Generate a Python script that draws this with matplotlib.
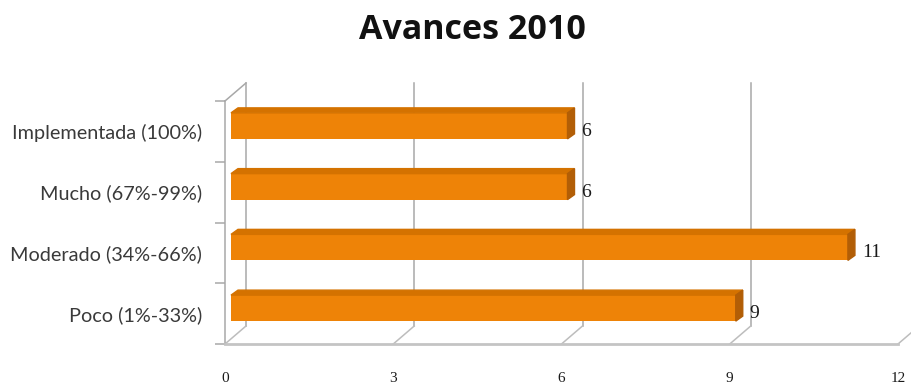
import matplotlib.pyplot as plt
from matplotlib.patches import Polygon

categorias = ['Poco (1%-33%)', 'Moderado (34%-66%)', 'Mucho (67%-99%)', 'Implementada (100%)']
avances = [9, 11, 6, 6]
ticks_x = [0, 3, 6, 9, 12]

naranja = '#EE8307'
naranja_sup = '#D47200'
naranja_lado = '#B25E06'
gris = '#A8A8A8'

fig = plt.figure(figsize=(9.11, 3.86), dpi=100)
ax = fig.add_axes([225 / 911, 42 / 386, 673 / 911, 243 / 386])
ax.set_xlim(0, 12)
ax.set_ylim(-0.5, 3.5)

# pixeles por unidad de datos, para los desplazamientos del efecto 3D
ppx = 673 / 12
ppy = 243 / 4


def px(dx, dy):
    return dx / ppx, dy / ppy


bx, by = px(21, 18)   # pared del fondo
fx, fy = px(6, 5.5)   # cara frontal de las barras
dx, dy = px(7, 5)     # profundidad de las barras
alto = 26 / ppy

# pared del fondo y suelo
for v in ticks_x:
    ax.plot([v + bx, v + bx], [-0.5 + by, 3.5 + by], color=gris, lw=1.1, clip_on=False, zorder=1)
    ax.plot([v, v + bx], [-0.5, -0.5 + by], color='#BDBDBD', lw=1.1, clip_on=False, zorder=1)
ax.plot([0, bx], [3.5, 3.5 + by], color=gris, lw=1.1, clip_on=False, zorder=1)

# barras con caras superior y lateral
ys = list(range(len(categorias)))
ax.barh([y + fy for y in ys], avances, left=fx, height=alto, color=naranja, zorder=3)
for y, v in zip(ys, avances):
    yt = y + fy + alto / 2
    yb = y + fy - alto / 2
    x1 = fx + v
    ax.add_patch(Polygon([(fx, yt), (x1, yt), (x1 + dx, yt + dy), (fx + dx, yt + dy)],
                         closed=True, color=naranja_sup, zorder=3, clip_on=False))
    ax.add_patch(Polygon([(x1, yb), (x1, yt), (x1 + dx, yt + dy), (x1 + dx, yb + dy)],
                         closed=True, color=naranja_lado, zorder=3, clip_on=False))
    ax.annotate(str(v), (x1 + dx, y), xytext=(7, 0), textcoords='offset pixels',
                ha='left', va='center', fontsize=14, family='Liberation Serif', color='#1a1a1a')

# ejes
for s in ['top', 'right']:
    ax.spines[s].set_visible(False)
ax.spines['left'].set_color(gris)
ax.spines['left'].set_linewidth(1.1)
ax.spines['bottom'].set_color('#C4C4C4')
ax.spines['bottom'].set_linewidth(2)

ax.set_yticks(ys, labels=categorias)
ax.set_yticks([-0.5, 0.5, 1.5, 2.5, 3.5], minor=True)
ax.tick_params(axis='y', which='major', length=0, pad=16.5, labelsize=14.3, labelcolor='#3a3a3a')
ax.tick_params(axis='y', which='minor', length=7, width=1.1, color=gris)
for lab in ax.get_yticklabels():
    lab.set_family('Lato')

ax.set_xticks(ticks_x)
ax.tick_params(axis='x', length=0, pad=20, labelsize=11, labelcolor='#1a1a1a')
for lab in ax.get_xticklabels():
    lab.set_family('Liberation Serif')

fig.text(472 / 911, 1 - 30 / 386, 'Avances 2010', ha='center', va='center',
         fontsize=24.5, fontweight='bold', family='Open Sans', color='#111111')

fig.savefig('out.png', dpi=100)
